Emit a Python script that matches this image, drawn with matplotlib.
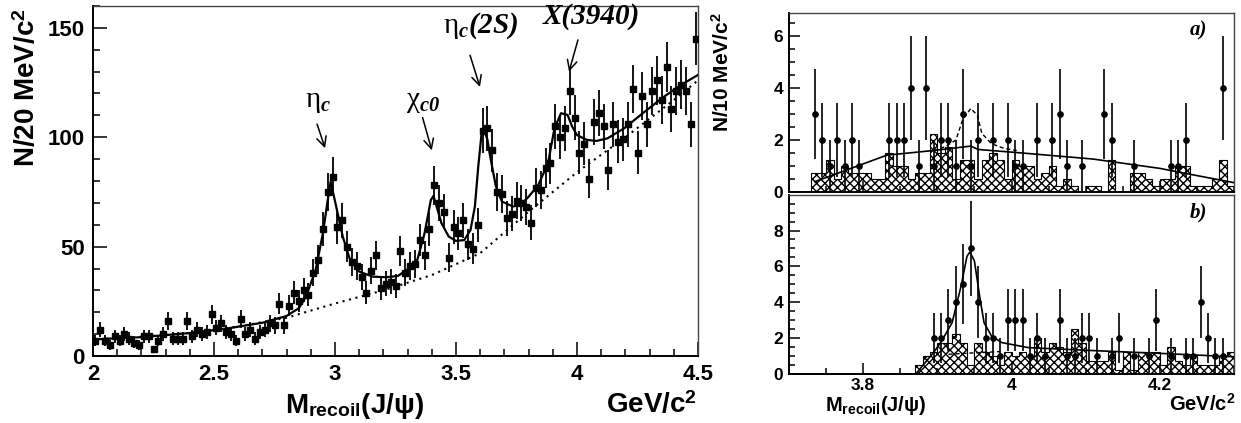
import numpy as np
import matplotlib
matplotlib.use("Agg")
import matplotlib.pyplot as plt
from matplotlib.ticker import MultipleLocator, FormatStrFormatter

plt.rcParams['font.family'] = ['Liberation Sans', 'DejaVu Sans']
plt.rcParams['font.weight'] = 'bold'
plt.rcParams['mathtext.fontset'] = 'custom'
plt.rcParams['mathtext.rm'] = 'Liberation Sans:bold'
plt.rcParams['mathtext.bf'] = 'Liberation Sans:bold'
plt.rcParams['mathtext.sf'] = 'Liberation Sans:bold'
plt.rcParams['mathtext.it'] = 'Liberation Serif:bold:italic'
plt.rcParams['mathtext.bfit'] = 'Liberation Serif:bold:italic'
plt.rcParams['hatch.linewidth'] = 1.0

# ---- left panel: recoil mass spectrum, 20 MeV bins from 2.0 to 4.5
left_lo, left_hi, left_nbins = 2.0, 4.5, 125
left_counts = [7, 12, 7, 5, 9, 7, 10, 8, 6, 5, 9, 9, 3, 7, 10, 16, 8, 8, 8, 16,
               9, 12, 10, 11, 19, 13, 15, 11, 10, 7, 17, 10, 12, 8, 11, 12, 15, 14, 24, 14,
               23, 29, 25, 30, 28, 38, 44, 58, 75, 82, 59, 62, 50, 43, 41, 36, 29, 39, 46, 31,
               33, 34, 32, 48, 38, 41, 42, 53, 46, 58, 78, 70, 66, 45, 59, 56, 62, 51, 49, 60,
               103, 104, 94, 75, 74, 63, 65, 71, 70, 68, 61, 77, 76, 86, 88, 105, 100, 104, 121, 109,
               93, 97, 81, 107, 111, 105, 85, 106, 98, 99, 106, 122, 93, 119, 106, 121, 126, 117, 132, 113,
               121, 124, 121, 106, 145]

fit_x = [2.00, 2.20, 2.40, 2.55, 2.70, 2.80, 2.85, 2.88, 2.92, 2.95, 2.97, 2.982, 3.005,
         3.032, 3.06, 3.10, 3.155, 3.21, 3.26, 3.30, 3.34, 3.37, 3.396, 3.407, 3.42, 3.44,
         3.47, 3.50, 3.534, 3.56, 3.578, 3.592, 3.605, 3.617, 3.63, 3.644, 3.665, 3.69,
         3.736, 3.77, 3.80, 3.84, 3.88, 3.907, 3.934, 3.961, 3.98, 4.00, 4.04, 4.08, 4.126,
         4.195, 4.28, 4.36, 4.43, 4.50]
fit_y = [7.6, 8.6, 10.5, 12.5, 15.2, 18.3, 21.8, 27.1, 39.3, 56.1, 71.3, 79.7, 68.3,
         54.6, 44.7, 38.6, 36.3, 36.0, 36.6, 39.6, 43.9, 56.1, 71.3, 73.2, 68.3, 60.7,
         54.6, 52.6, 53.0, 57.6, 68.3, 86.6, 101.0, 103.3, 98.8, 89.6, 77.4, 70.6,
         68.3, 69.5, 72.8, 78.2, 88.0, 104.1, 111.0, 110.2, 104.9, 101.0, 98.8, 98.3, 99.5,
         104.1, 111.7, 118.6, 123.9, 128.5]

bkg_x = [2.0, 2.2, 2.4, 2.6, 2.8, 3.0, 3.2, 3.4, 3.6, 3.8, 4.0, 4.2, 4.4, 4.5]
bkg_y = [7.5, 8.8, 10.5, 13.5, 17.5, 24.0, 30.0, 37.0, 47.0, 66.0, 84.0, 100.0, 117.0, 126.0]

# ---- right panels: 10 MeV bins from 3.7 to 4.3
right_lo, right_hi, right_nbins = 3.7, 4.3, 60

a_bins = [3, 4, 5, 6, 7, 8, 9, 13, 14, 15, 16, 17, 18, 19, 20, 21, 22, 23, 24, 25,
          27, 29, 30, 31, 33, 35, 36, 37, 39, 42, 43, 46, 51, 52, 53, 58]
a_counts = [3, 2, 1, 2, 1, 2, 1, 2, 2, 2, 4, 1, 4, 1, 2, 2, 1, 3, 1, 2,
            2, 2, 1, 1, 2, 2, 3, 1, 1, 3, 2, 1, 1, 1, 2, 4]
a_hist = [0, 0, 0, 0.75, 0.75, 1.25, 0.5, 1.0, 0.75, 0.75, 0.75, 0.5, 0.5, 1.5, 1.0,
          1.0, 0.5, 0.75, 0.75, 2.25, 1.5, 1.75, 0.5, 1.25, 1.25, 0.5, 1.25, 1.5, 1.25, 0.5,
          1.25, 1.0, 1.0, 0.5, 0.75, 1.0, 0.25, 0.5, 0.25, 0, 0.25, 0.25, 0, 1.25, 0,
          0, 0.75, 0.75, 0.5, 0.25, 0.5, 0.5, 1.0, 1.0, 0.25, 0.25, 0.25, 0.5, 1.25, 0.25]
a_fit_x = [3.735, 3.832, 3.895, 3.945, 3.955, 4.02, 4.11, 4.20, 4.245, 4.30]
a_fit_y = [0.40, 1.42, 1.60, 1.77, 1.64, 1.49, 1.27, 0.91, 0.66, 0.36]
a_sig_x = [3.895, 3.91, 3.925, 3.934, 3.945, 3.954, 3.96, 3.973, 3.99, 4.007]
a_sig_y = [1.60, 1.74, 2.0, 2.77, 3.22, 2.96, 2.26, 1.86, 1.68, 1.60]

b_bins = [19, 20, 21, 22, 23, 24, 25, 26, 27, 28, 29, 30, 31, 32, 33, 34, 36, 37, 38, 39,
          40, 41, 43, 44, 46, 48, 49, 51, 53, 54, 55, 56, 57, 58]
b_counts = [2, 2, 3, 4, 5, 7, 4, 2, 2, 1, 3, 3, 3, 1, 2, 1, 3, 1, 1, 2,
            2, 1, 1, 2, 1, 1, 3, 1, 1, 1, 4, 2, 1, 1]
b_hist = [0] * 17 + [0.5, 1.0, 1.25, 1.75, 1.75, 2.25, 1.75, 0.5, 1.75, 1.25, 1.0, 0.5,
          1.25, 1.0, 1.25, 1.0, 2.0, 1.25, 1.75, 1.5, 1.25, 2.5, 1.75, 0.75, 0.75, 0.75,
          1.25, 0.25, 1.25, 0.25, 1.25, 1.25, 1.25, 0.5, 1.5, 0.75, 0.5, 1.0, 0.5, 0.5,
          0.5, 1.0, 1.25]
b_fit_x = [3.70, 3.871, 3.88, 3.895, 3.906, 3.92, 3.932, 3.94, 3.944, 3.95, 3.957, 3.963,
           3.973, 3.987, 4.023, 4.113, 4.20, 4.30]
b_fit_y = [0, 0, 0.46, 1.2, 1.85, 2.87, 4.9, 6.57, 6.8, 6.3, 4.34, 2.86, 2.12, 1.75,
           1.47, 1.3, 1.15, 0.96]
b_bkg_x = [3.915, 3.95, 3.985]
b_bkg_y = [1.1, 1.18, 1.25]

W, H = 1241, 423
fig = plt.figure(figsize=(W / 100, H / 100), dpi=100)


def box(l, t, r, b):
    return [l / W, 1 - b / H, (r - l) / W, (b - t) / H]


def root_style(ax, major_len, minor_len, size):
    for side in ['left', 'bottom']:
        ax.spines[side].set_linewidth(1.4)
    for side in ['top', 'right']:
        ax.spines[side].set_linewidth(1.0)
        ax.spines[side].set_color('#444444')
    ax.tick_params(which='both', direction='in', top=False, right=False, width=1.1,
                   labelsize=size)
    ax.tick_params(which='major', length=major_len)
    ax.tick_params(which='minor', length=minor_len)


# ---------------- left panel
ax = fig.add_axes(box(93, 6, 698, 356))
edges = np.linspace(left_lo, left_hi, left_nbins + 1)
centers = 0.5 * (edges[:-1] + edges[1:])
cnt = np.array(left_counts, dtype=float)
ax.errorbar(centers, cnt, yerr=np.sqrt(cnt), fmt='s', ms=4.3, color='black',
            elinewidth=1.3, capsize=0, zorder=3)
ax.plot(bkg_x, bkg_y, color='black', lw=1.5, linestyle=(0, (1, 2.2)), zorder=2)
ax.plot(fit_x, fit_y, color='black', lw=1.6, zorder=4)
ax.set_xlim(left_lo, left_hi)
ax.set_ylim(0, 160)
ax.xaxis.set_major_locator(MultipleLocator(0.5))
ax.xaxis.set_minor_locator(MultipleLocator(0.1))
ax.yaxis.set_major_locator(MultipleLocator(50))
ax.yaxis.set_minor_locator(MultipleLocator(10))
ax.xaxis.set_major_formatter(FormatStrFormatter('%g'))
root_style(ax, 10, 5, 16)
ax.tick_params(axis='x', pad=6)
ax.tick_params(axis='y', pad=6)

arrow = dict(arrowstyle='->,head_length=0.7,head_width=0.35', color='black', lw=1.1,
             shrinkA=0, shrinkB=0)
serif = ['Liberation Serif', 'DejaVu Serif']
ax.text(2.93, 116, 'η$_{\\mathbfit{c}}$', family=serif, weight='normal', fontsize=21,
        ha='center', va='center')
ax.annotate('', xy=(2.959, 95), xytext=(2.926, 106), arrowprops=arrow)
ax.text(3.364, 116, 'χ$_{\\mathbfit{c0}}$', family=serif, weight='normal', fontsize=21,
        ha='center', va='center')
ax.annotate('', xy=(3.40, 94), xytext=(3.362, 109), arrowprops=arrow)
ax.text(3.603, 151, 'η$_{\\mathbfit{c}}\\mathbfit{(2S)}$', family=serif, weight='normal',
        fontsize=21, ha='center', va='center', clip_on=False)
ax.annotate('', xy=(3.599, 123), xytext=(3.558, 137.5), arrowprops=arrow)
ax.text(4.058, 155, 'X(3940)', family=serif, weight='bold', style='italic', fontsize=21,
        ha='center', va='center', clip_on=False)
ax.annotate('', xy=(3.967, 130), xytext=(4.004, 144.5), arrowprops=arrow)

fig.text(27 / W, 1 - 88 / H, 'N/20 MeV/c$^{\\mathrm{2}}$', rotation=90, fontsize=20,
         ha='center', va='center')
fig.text(354 / W, 1 - 413 / H, 'M$_{\\mathrm{recoil}}$(J/ψ)', fontsize=20,
         ha='center', va='baseline')
fig.text(697 / W, 1 - 413 / H, 'GeV/c$^{\\mathrm{2}}$', fontsize=20,
         ha='right', va='baseline')

# ---------------- right panels
r_edges = np.linspace(right_lo, right_hi, right_nbins + 1)
r_centers = 0.5 * (r_edges[:-1] + r_edges[1:])


def right_panel(ax, bins, counts, hist, ymax, tag):
    ax.stairs(hist, r_edges, fill=True, facecolor='white', edgecolor='black',
              hatch='xxxx', lw=0.8, zorder=1)
    n = np.array(counts, dtype=float)
    ax.errorbar(r_centers[bins], n, yerr=np.sqrt(n), fmt='o', ms=3.8, color='black',
                elinewidth=1.2, capsize=0, zorder=3)
    ax.set_xlim(right_lo, right_hi)
    ax.set_ylim(0, ymax)
    ax.xaxis.set_major_locator(MultipleLocator(0.2))
    ax.xaxis.set_minor_locator(MultipleLocator(0.05))
    ax.yaxis.set_major_locator(MultipleLocator(2))
    ax.yaxis.set_minor_locator(MultipleLocator(0.5))
    ax.xaxis.set_major_formatter(FormatStrFormatter('%g'))
    root_style(ax, 8, 4, 12.5)
    ax.tick_params(axis='y', pad=4)
    ax.tick_params(axis='x', pad=3)
    ax.text(0.92, 0.905, tag, transform=ax.transAxes, family=serif, weight='bold',
            style='italic', fontsize=15, ha='center', va='center')


axa = fig.add_axes(box(789, 13, 1234, 192))
right_panel(axa, a_bins, a_counts, a_hist, 6.9, 'a)')
axa.plot(a_sig_x, a_sig_y, color='black', lw=1.0, linestyle=(0, (3, 2)), zorder=4)
axa.plot(a_fit_x, a_fit_y, color='black', lw=1.2, zorder=4)
axa.tick_params(axis='x', labelbottom=False)

axb = fig.add_axes(box(789, 195, 1234, 374))
right_panel(axb, b_bins, b_counts, b_hist, 9.98, 'b)')
axb.plot(b_bkg_x, b_bkg_y, color='black', lw=1.0, linestyle=(0, (3, 2)), zorder=2)
axb.plot(b_fit_x, b_fit_y, color='black', lw=1.2, zorder=4)

fig.text(722 / W, 1 - 72 / H, 'N/10 MeV/c$^{\\mathrm{2}}$', rotation=90, fontsize=15,
         ha='center', va='center')
fig.text(876 / W, 1 - 411 / H, 'M$_{\\mathrm{recoil}}$(J/ψ)', fontsize=14.5,
         ha='center', va='baseline')
fig.text(1235 / W, 1 - 411 / H, 'GeV/c$^{\\mathrm{2}}$', fontsize=14.5,
         ha='right', va='baseline')

fig.savefig('out.png', dpi=100)
